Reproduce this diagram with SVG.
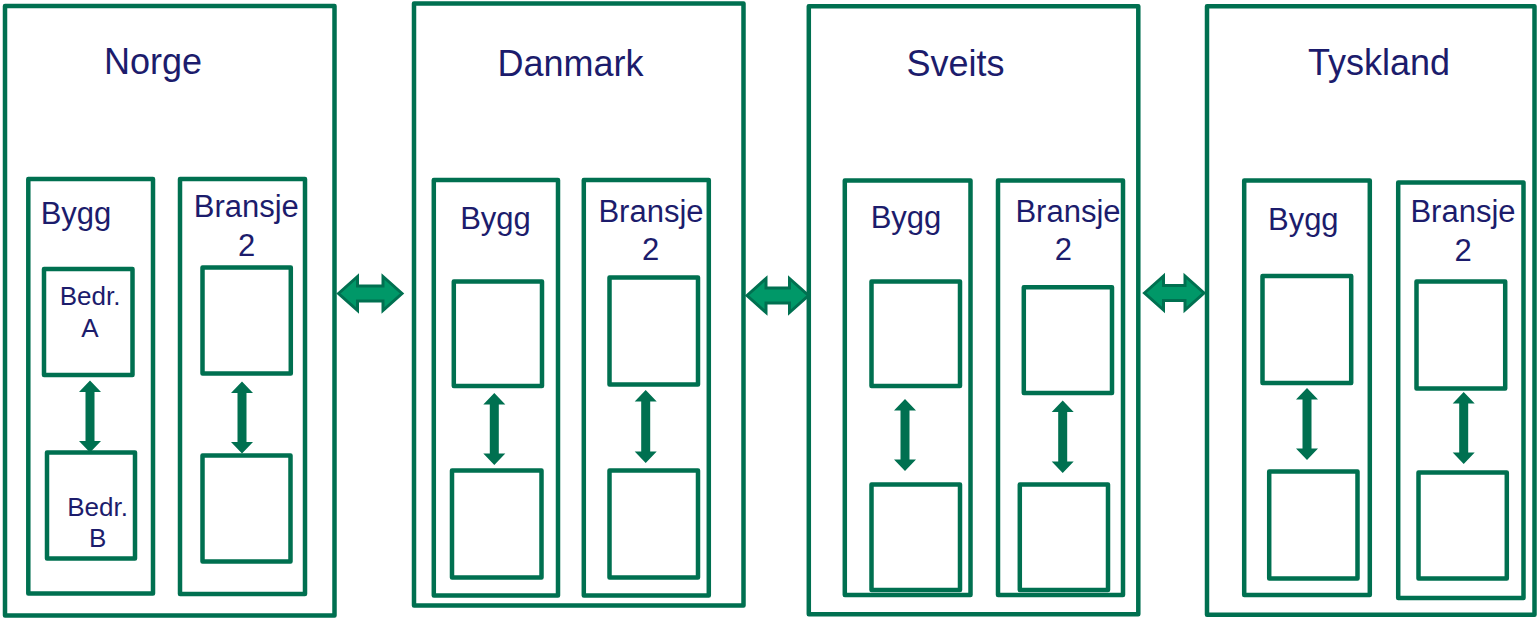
<svg xmlns="http://www.w3.org/2000/svg" width="1537" height="619" viewBox="0 0 1537 619">
<style>
.box{fill:#ffffff;stroke:#007050;stroke-width:4.5;stroke-linejoin:round}
.t{font-family:"Liberation Sans",Arial,sans-serif;fill:#1c1c6c;text-anchor:middle}
.title{font-size:36px}
.lab{font-size:31px}
.small{font-size:26px}
.varrow{fill:#007050;stroke:none}
.harrow{fill:#009868;stroke:#007050;stroke-width:3;stroke-linejoin:miter}
</style>
<rect width="1537" height="619" fill="#ffffff"/>

<g id="norge">
<rect class="box" x="5" y="6" width="329.5" height="609.5"/>
<text class="t title" x="153" y="73.5">Norge</text>
<g id="norge-bygg">
<rect class="box" x="28.3" y="179" width="124.7" height="414.5"/>
<text class="t lab" x="40.7" y="224" style="text-anchor:start">Bygg</text>
<g id="norge-bedr-a">
<rect class="box" x="44" y="269" width="88.5" height="106"/>
<text class="t small" x="90" y="305">Bedr.</text>
<text class="t small" x="90" y="336.7">A</text>
</g>
<g id="norge-bedr-b">
<rect class="box" x="47" y="452.5" width="88" height="106"/>
<text class="t small" x="97.5" y="516">Bedr.</text>
<text class="t small" x="97.7" y="546.7">B</text>
</g>
</g>
<g id="norge-bransje">
<rect class="box" x="180" y="179" width="125" height="415"/>
<text class="t lab" x="246.3" y="216.7">Bransje</text>
<text class="t lab" x="246.7" y="256">2</text>
<rect class="box" x="202.5" y="267.5" width="88.3" height="106"/>
<rect class="box" x="202.5" y="455.5" width="88" height="106"/>
</g>
</g>

<g id="danmark">
<rect class="box" x="414" y="3.5" width="329.5" height="602"/>
<text class="t title" x="570.5" y="75.5">Danmark</text>
<g id="danmark-bygg">
<rect class="box" x="433.8" y="180" width="124.2" height="415.5"/>
<text class="t lab" x="495.5" y="228.5">Bygg</text>
<rect class="box" x="453.8" y="281.5" width="88.2" height="104.5"/>
<rect class="box" x="452" y="470.5" width="89.5" height="107"/>
</g>
<g id="danmark-bransje">
<rect class="box" x="583.8" y="180" width="125" height="415.5"/>
<text class="t lab" x="651" y="221.6">Bransje</text>
<text class="t lab" x="650.7" y="259.5">2</text>
<rect class="box" x="609.5" y="277.5" width="88.5" height="107"/>
<rect class="box" x="609.5" y="470.5" width="88.5" height="107"/>
</g>
</g>

<g id="sveits">
<rect class="box" x="808.8" y="6.3" width="329.5" height="608"/>
<text class="t title" x="955.5" y="75.5">Sveits</text>
<g id="sveits-bygg">
<rect class="box" x="844.8" y="180.5" width="125.7" height="414.5"/>
<text class="t lab" x="906" y="227.5">Bygg</text>
<rect class="box" x="871.5" y="281.5" width="88.5" height="104.5"/>
<rect class="box" x="871.5" y="484.5" width="88.5" height="105.5"/>
</g>
<g id="sveits-bransje">
<rect class="box" x="998" y="180.5" width="125" height="414.5"/>
<text class="t lab" x="1068" y="221.6">Bransje</text>
<text class="t lab" x="1063.3" y="259.5">2</text>
<rect class="box" x="1023.8" y="287.3" width="88.2" height="105.7"/>
<rect class="box" x="1019.8" y="484.5" width="88.2" height="105.5"/>
</g>
</g>

<g id="tyskland">
<rect class="box" x="1207" y="6.3" width="327.5" height="608.5"/>
<text class="t title" x="1379" y="74.5">Tyskland</text>
<g id="tyskland-bygg">
<rect class="box" x="1244.2" y="180.5" width="125.6" height="414.5"/>
<text class="t lab" x="1303.3" y="229.5">Bygg</text>
<rect class="box" x="1262.5" y="276" width="88.7" height="107"/>
<rect class="box" x="1269.2" y="471.5" width="88.3" height="107"/>
</g>
<g id="tyskland-bransje">
<rect class="box" x="1398.2" y="182.5" width="125.3" height="415.5"/>
<text class="t lab" x="1463" y="221.6">Bransje</text>
<text class="t lab" x="1463" y="261">2</text>
<rect class="box" x="1416.5" y="281.5" width="88.7" height="107"/>
<rect class="box" x="1418.5" y="472.5" width="88.3" height="106"/>
</g>
</g>

<g id="connectors">
<path class="harrow" d="M338.5,293.5 L357.5,276.5 L357.5,286 L383,286 L383,276.5 L402,293.5 L383,310.5 L383,301 L357.5,301 L357.5,310.5 Z"/>
<path class="harrow" d="M747,295.5 L766,278.5 L766,288 L789.5,288 L789.5,278.5 L808.5,295.5 L789.5,312.5 L789.5,303 L766,303 L766,312.5 Z"/>
<path class="harrow" d="M1144.5,293 L1163.5,276 L1163.5,285.5 L1185,285.5 L1185,276 L1204,293 L1185,310 L1185,300.5 L1163.5,300.5 L1163.5,310 Z"/>

<path class="varrow" d="M90,380.5 L101,392 L94.5,392 L94.5,441 L101,441 L90,452.5 L79,441 L85.5,441 L85.5,392 L79,392 Z"/>
<path class="varrow" d="M242,381.5 L253,393 L246.5,393 L246.5,442 L253,442 L242,453.5 L231,442 L237.5,442 L237.5,393 L231,393 Z"/>
<path class="varrow" d="M494.3,393 L505.3,404.5 L498.8,404.5 L498.8,453.5 L505.3,453.5 L494.3,465 L483.3,453.5 L489.8,453.5 L489.8,404.5 L483.3,404.5 Z"/>
<path class="varrow" d="M645.7,390 L656.7,401.5 L650.2,401.5 L650.2,451.5 L656.7,451.5 L645.7,463 L634.7,451.5 L641.2,451.5 L641.2,401.5 L634.7,401.5 Z"/>
<path class="varrow" d="M905,399 L916,410.5 L909.5,410.5 L909.5,459.5 L916,459.5 L905,471 L894,459.5 L900.5,459.5 L900.5,410.5 L894,410.5 Z"/>
<path class="varrow" d="M1062.7,400.5 L1073.7,412 L1067.2,412 L1067.2,461.5 L1073.7,461.5 L1062.7,473 L1051.7,461.5 L1058.2,461.5 L1058.2,412 L1051.7,412 Z"/>
<path class="varrow" d="M1307,388 L1318,399.5 L1311.5,399.5 L1311.5,448.5 L1318,448.5 L1307,460 L1296,448.5 L1302.5,448.5 L1302.5,399.5 L1296,399.5 Z"/>
<path class="varrow" d="M1463.7,392 L1474.7,403.5 L1468.2,403.5 L1468.2,452.5 L1474.7,452.5 L1463.7,464 L1452.7,452.5 L1459.2,452.5 L1459.2,403.5 L1452.7,403.5 Z"/>
</g>
</svg>
